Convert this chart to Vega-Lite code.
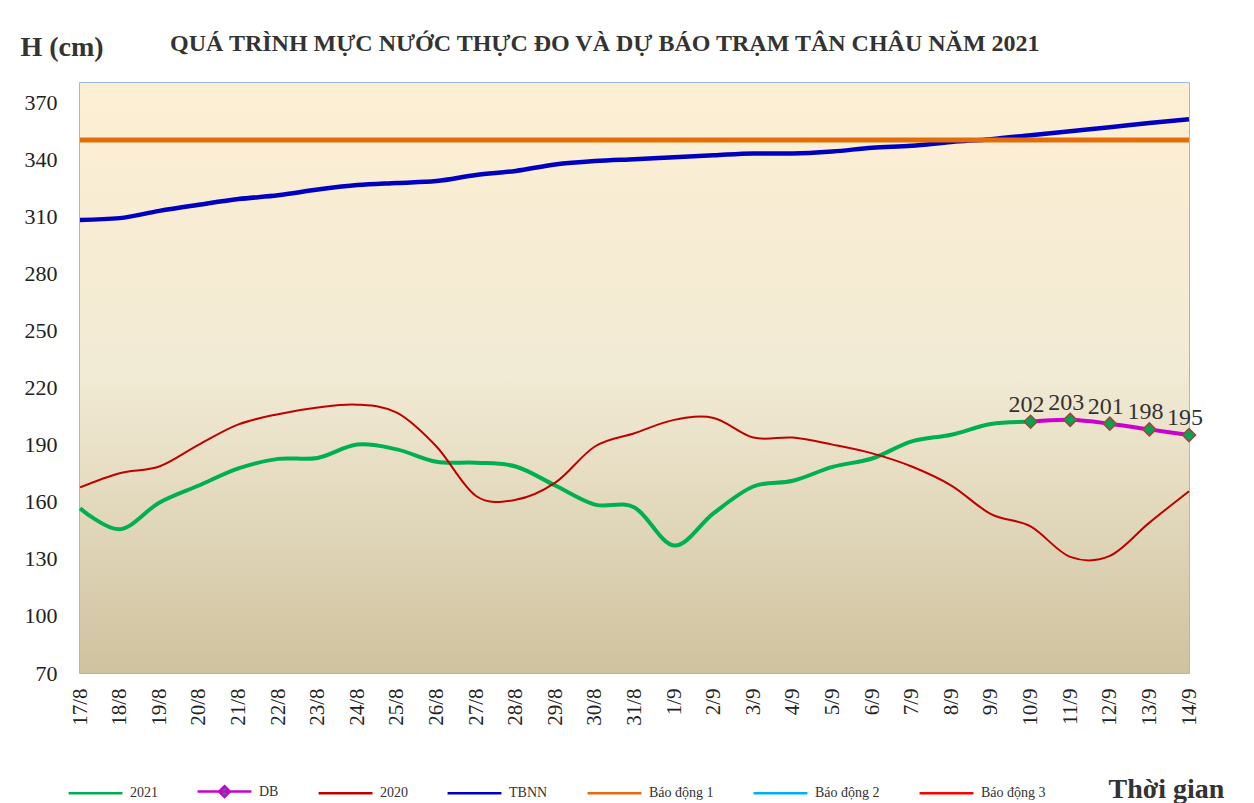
{
  "$schema": "https://vega.github.io/schema/vega-lite/v6.json",
  "width": 1109,
  "height": 590,
  "autosize": {"type": "none"},
  "padding": {"left": 80, "top": 83, "right": 65, "bottom": 130},
  "background": "white",
  "config": {
    "font": "Liberation Serif",
    "view": {"stroke": "#7EA2D6", "strokeWidth": 1.5},
    "axis": {"grid": false, "domain": false, "ticks": false, "tickSize": 0, "labelFont": "Liberation Serif", "labelColor": "#222222", "labelFontSize": 21, "titleFont": "Liberation Serif", "titleColor": "#333333"}
  },
  "title": {
    "text": "QUÁ TRÌNH MỰC NƯỚC THỰC ĐO VÀ DỰ BÁO TRẠM TÂN CHÂU NĂM 2021",
    "anchor": "start",
    "frame": "group",
    "dx": 90,
    "offset": 0,
    "dy": 42,
    "baseline": "alphabetic",
    "font": "Liberation Serif",
    "fontSize": 24,
    "fontWeight": "bold",
    "color": "#333333"
  },
  "datasets": {
    "main": [
      {"date": "17/8", "series": "2021", "value": 156.5},
      {"date": "18/8", "series": "2021", "value": 145.5},
      {"date": "19/8", "series": "2021", "value": 159.5},
      {"date": "20/8", "series": "2021", "value": 168.5},
      {"date": "21/8", "series": "2021", "value": 177.5},
      {"date": "22/8", "series": "2021", "value": 182.5},
      {"date": "23/8", "series": "2021", "value": 183},
      {"date": "24/8", "series": "2021", "value": 190},
      {"date": "25/8", "series": "2021", "value": 187.5},
      {"date": "26/8", "series": "2021", "value": 181},
      {"date": "27/8", "series": "2021", "value": 180.5},
      {"date": "28/8", "series": "2021", "value": 178.5},
      {"date": "29/8", "series": "2021", "value": 168.5},
      {"date": "30/8", "series": "2021", "value": 158.5},
      {"date": "31/8", "series": "2021", "value": 157},
      {"date": "1/9", "series": "2021", "value": 137},
      {"date": "2/9", "series": "2021", "value": 154},
      {"date": "3/9", "series": "2021", "value": 168},
      {"date": "4/9", "series": "2021", "value": 171},
      {"date": "5/9", "series": "2021", "value": 178.3},
      {"date": "6/9", "series": "2021", "value": 182.7},
      {"date": "7/9", "series": "2021", "value": 191.7},
      {"date": "8/9", "series": "2021", "value": 195.2},
      {"date": "9/9", "series": "2021", "value": 200.8},
      {"date": "10/9", "series": "2021", "value": 202},

      {"date": "17/8", "series": "2020", "value": 167.5},
      {"date": "18/8", "series": "2020", "value": 175},
      {"date": "19/8", "series": "2020", "value": 178.5},
      {"date": "20/8", "series": "2020", "value": 190},
      {"date": "21/8", "series": "2020", "value": 200.6},
      {"date": "22/8", "series": "2020", "value": 206},
      {"date": "23/8", "series": "2020", "value": 209.5},
      {"date": "24/8", "series": "2020", "value": 211},
      {"date": "25/8", "series": "2020", "value": 206.8},
      {"date": "26/8", "series": "2020", "value": 189},
      {"date": "27/8", "series": "2020", "value": 163},
      {"date": "28/8", "series": "2020", "value": 161},
      {"date": "29/8", "series": "2020", "value": 170},
      {"date": "30/8", "series": "2020", "value": 189},
      {"date": "31/8", "series": "2020", "value": 196},
      {"date": "1/9", "series": "2020", "value": 203},
      {"date": "2/9", "series": "2020", "value": 204},
      {"date": "3/9", "series": "2020", "value": 193.7},
      {"date": "4/9", "series": "2020", "value": 193.7},
      {"date": "5/9", "series": "2020", "value": 190},
      {"date": "6/9", "series": "2020", "value": 185.4},
      {"date": "7/9", "series": "2020", "value": 178.5},
      {"date": "8/9", "series": "2020", "value": 168.5},
      {"date": "9/9", "series": "2020", "value": 153.5},
      {"date": "10/9", "series": "2020", "value": 147},
      {"date": "11/9", "series": "2020", "value": 131},
      {"date": "12/9", "series": "2020", "value": 131.5},
      {"date": "13/9", "series": "2020", "value": 149},
      {"date": "14/9", "series": "2020", "value": 165.5},

      {"date": "17/8", "series": "TBNN", "value": 308},
      {"date": "18/8", "series": "TBNN", "value": 309},
      {"date": "19/8", "series": "TBNN", "value": 312.8},
      {"date": "20/8", "series": "TBNN", "value": 316},
      {"date": "21/8", "series": "TBNN", "value": 319},
      {"date": "22/8", "series": "TBNN", "value": 321},
      {"date": "23/8", "series": "TBNN", "value": 324},
      {"date": "24/8", "series": "TBNN", "value": 326.4},
      {"date": "25/8", "series": "TBNN", "value": 327.5},
      {"date": "26/8", "series": "TBNN", "value": 328.5},
      {"date": "27/8", "series": "TBNN", "value": 331.7},
      {"date": "28/8", "series": "TBNN", "value": 333.8},
      {"date": "29/8", "series": "TBNN", "value": 337.2},
      {"date": "30/8", "series": "TBNN", "value": 339},
      {"date": "31/8", "series": "TBNN", "value": 340},
      {"date": "1/9", "series": "TBNN", "value": 341},
      {"date": "2/9", "series": "TBNN", "value": 342},
      {"date": "3/9", "series": "TBNN", "value": 343},
      {"date": "4/9", "series": "TBNN", "value": 343},
      {"date": "5/9", "series": "TBNN", "value": 344},
      {"date": "6/9", "series": "TBNN", "value": 346},
      {"date": "7/9", "series": "TBNN", "value": 347},
      {"date": "8/9", "series": "TBNN", "value": 349},
      {"date": "9/9", "series": "TBNN", "value": 350.5},
      {"date": "10/9", "series": "TBNN", "value": 352.6},
      {"date": "11/9", "series": "TBNN", "value": 354.7},
      {"date": "12/9", "series": "TBNN", "value": 356.8},
      {"date": "13/9", "series": "TBNN", "value": 359},
      {"date": "14/9", "series": "TBNN", "value": 361},

      {"date": "17/8", "series": "Báo động 1", "value": 350},
      {"date": "18/8", "series": "Báo động 1", "value": 350},
      {"date": "19/8", "series": "Báo động 1", "value": 350},
      {"date": "20/8", "series": "Báo động 1", "value": 350},
      {"date": "21/8", "series": "Báo động 1", "value": 350},
      {"date": "22/8", "series": "Báo động 1", "value": 350},
      {"date": "23/8", "series": "Báo động 1", "value": 350},
      {"date": "24/8", "series": "Báo động 1", "value": 350},
      {"date": "25/8", "series": "Báo động 1", "value": 350},
      {"date": "26/8", "series": "Báo động 1", "value": 350},
      {"date": "27/8", "series": "Báo động 1", "value": 350},
      {"date": "28/8", "series": "Báo động 1", "value": 350},
      {"date": "29/8", "series": "Báo động 1", "value": 350},
      {"date": "30/8", "series": "Báo động 1", "value": 350},
      {"date": "31/8", "series": "Báo động 1", "value": 350},
      {"date": "1/9", "series": "Báo động 1", "value": 350},
      {"date": "2/9", "series": "Báo động 1", "value": 350},
      {"date": "3/9", "series": "Báo động 1", "value": 350},
      {"date": "4/9", "series": "Báo động 1", "value": 350},
      {"date": "5/9", "series": "Báo động 1", "value": 350},
      {"date": "6/9", "series": "Báo động 1", "value": 350},
      {"date": "7/9", "series": "Báo động 1", "value": 350},
      {"date": "8/9", "series": "Báo động 1", "value": 350},
      {"date": "9/9", "series": "Báo động 1", "value": 350},
      {"date": "10/9", "series": "Báo động 1", "value": 350},
      {"date": "11/9", "series": "Báo động 1", "value": 350},
      {"date": "12/9", "series": "Báo động 1", "value": 350},
      {"date": "13/9", "series": "Báo động 1", "value": 350},
      {"date": "14/9", "series": "Báo động 1", "value": 350},

      {"date": "10/9", "series": "DB", "value": 202},
      {"date": "11/9", "series": "DB", "value": 203},
      {"date": "12/9", "series": "DB", "value": 201},
      {"date": "13/9", "series": "DB", "value": 198},
      {"date": "14/9", "series": "DB", "value": 195}
    ]
  },
  "resolve": {"scale": {"x": "shared", "y": "shared"}},
  "layer": [
    {
      "data": {"values": [{"from": "17/8", "to": "14/9", "top": 380, "bottom": 70}]},
      "mark": {"type": "rect", "fill": {"gradient": "linear", "x1": 0, "y1": 0, "x2": 0, "y2": 1, "stops": [{"offset": 0, "color": "#FDEFD3"}, {"offset": 0.5, "color": "#F1EAD4"}, {"offset": 1, "color": "#CFC29E"}]}},
      "encoding": {
        "x": {
          "field": "from",
          "type": "ordinal",
          "scale": {"type": "point", "padding": 0, "domain": ["17/8","18/8","19/8","20/8","21/8","22/8","23/8","24/8","25/8","26/8","27/8","28/8","29/8","30/8","31/8","1/9","2/9","3/9","4/9","5/9","6/9","7/9","8/9","9/9","10/9","11/9","12/9","13/9","14/9"]},
          "axis": {"labelAngle": -90, "labelPadding": 15, "title": "Thời gian", "titleFontSize": 28, "titleFontWeight": "bold", "titleAlign": "left", "titleBaseline": "alphabetic", "titleX": 1028, "titleY": 124}
        },
        "x2": {"field": "to"},
        "y": {
          "field": "top",
          "type": "quantitative",
          "scale": {"domain": [70, 380], "nice": false, "zero": false},
          "axis": {"values": [70,100,130,160,190,220,250,280,310,340,370], "labelPadding": 23, "labelFontSize": 22, "title": "H (cm)", "titleAngle": 0, "titleFontSize": 28, "titleFontWeight": "bold", "titleAlign": "left", "titleBaseline": "alphabetic", "titleX": -60, "titleY": -28}
        },
        "y2": {"field": "bottom"}
      }
    },
    {
      "data": {"name": "main"},
      "transform": [{"filter": "datum.series === '2021'"}],
      "mark": {"type": "line", "interpolate": "cardinal", "strokeWidth": 4},
      "encoding": {"x": {"field": "date", "type": "ordinal"}, "y": {"field": "value", "type": "quantitative"}, "color": {"field": "series", "type": "nominal"}}
    },
    {
      "data": {"name": "main"},
      "transform": [{"filter": "datum.series === 'DB'"}],
      "mark": {"type": "line", "interpolate": "cardinal", "strokeWidth": 4},
      "encoding": {"x": {"field": "date", "type": "ordinal"}, "y": {"field": "value", "type": "quantitative"}, "color": {"field": "series", "type": "nominal"}}
    },
    {
      "data": {"name": "main"},
      "transform": [{"filter": "datum.series === '2020'"}],
      "mark": {"type": "line", "interpolate": "cardinal", "strokeWidth": 2},
      "encoding": {"x": {"field": "date", "type": "ordinal"}, "y": {"field": "value", "type": "quantitative"}, "color": {"field": "series", "type": "nominal"}}
    },
    {
      "data": {"name": "main"},
      "transform": [{"filter": "datum.series === 'TBNN'"}],
      "mark": {"type": "line", "interpolate": "monotone", "strokeWidth": 4.5},
      "encoding": {"x": {"field": "date", "type": "ordinal"}, "y": {"field": "value", "type": "quantitative"}, "color": {"field": "series", "type": "nominal"}}
    },
    {
      "data": {"name": "main"},
      "transform": [{"filter": "datum.series === 'Báo động 1'"}],
      "mark": {"type": "line", "strokeWidth": 5},
      "encoding": {
        "x": {"field": "date", "type": "ordinal"},
        "y": {"field": "value", "type": "quantitative"},
        "color": {
          "field": "series",
          "type": "nominal",
          "scale": {
            "domain": ["2021", "DB", "2020", "TBNN", "Báo động 1", "Báo động 2", "Báo động 3"],
            "range": ["#00B050", "#CC00CC", "#C00000", "#0000C0", "#E46C0A", "#00B0F0", "#FF0000"]
          },
          "legend": {
            "title": null,
            "orient": "none",
            "direction": "horizontal",
            "legendX": -13,
            "legendY": 680,
            "symbolType": "stroke",
            "symbolSize": 2900,
            "symbolStrokeWidth": 2.5,
            "labelFont": "Liberation Serif",
            "labelFontSize": 14,
            "labelColor": "#333333",
            "labelOffset": 6,
            "columnPadding": 34,
            "columns": 7,
            "encode": {
              "symbols": {
                "update": {
                  "shape": {"signal": "datum.value === 'DB' ? 'M-1,0L1,0M0,-0.2L0.2,0L0,0.2L-0.2,0Z' : 'stroke'"},
                  "fill": {"signal": "datum.value === 'DB' ? '#00A550' : 'transparent'"}
                }
              }
            }
          }
        }
      }
    },
    {
      "data": {"name": "main"},
      "transform": [{"filter": "datum.series === 'DB'"}],
      "mark": {"type": "point", "shape": "diamond", "filled": true, "size": 170, "fill": "#00A550", "stroke": "#A8403A", "strokeWidth": 1.5, "opacity": 1},
      "encoding": {"x": {"field": "date", "type": "ordinal"}, "y": {"field": "value", "type": "quantitative"}}
    },
    {
      "data": {"name": "main"},
      "transform": [{"filter": "datum.series === 'DB'"}],
      "mark": {"type": "text", "dy": -17, "dx": -4, "fontSize": 24, "font": "Liberation Serif", "color": "#333333"},
      "encoding": {"x": {"field": "date", "type": "ordinal"}, "y": {"field": "value", "type": "quantitative"}, "text": {"field": "value", "type": "quantitative"}}
    }
  ]
}
